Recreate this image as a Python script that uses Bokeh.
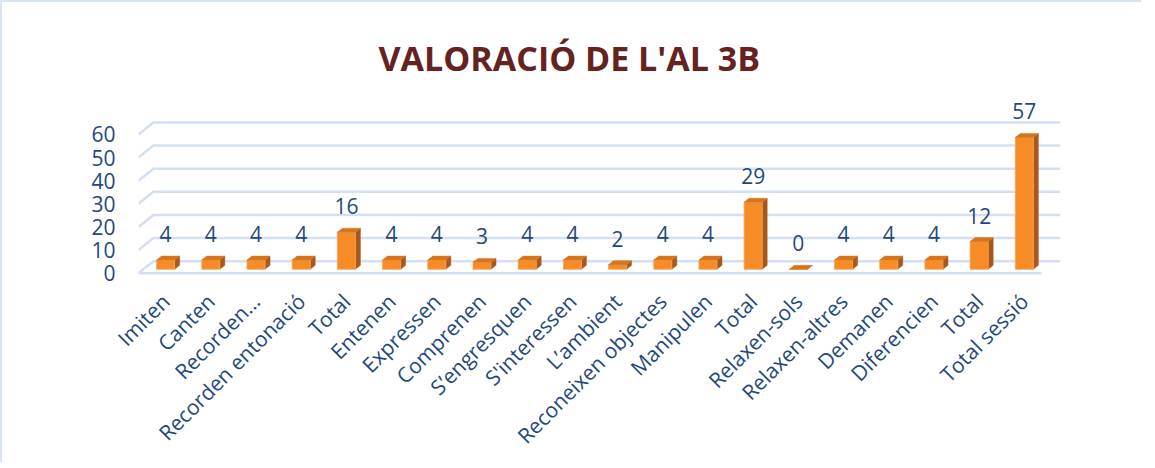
from bokeh.plotting import figure
from bokeh.models import ColumnDataSource, LabelSet, FixedTicker, Range1d
from bokeh.core.properties import value
from bokeh.embed import file_html
from bokeh.resources import INLINE
import math

# ---- data ----
categories = ["Imiten", "Canten", "Recorden…", "Recorden entonació", "Total",
              "Entenen", "Expressen", "Comprenen", "S’engresquen", "S'interessen",
              "L’ambient", "Reconeixen objectes", "Manipulen", "Total",
              "Relaxen-sols", "Relaxen-altres", "Demanen", "Diferencien", "Total",
              "Total sessió"]
values = [4, 4, 4, 4, 16, 4, 4, 3, 4, 4, 2, 4, 4, 29, 0, 4, 4, 4, 12, 57]
y_ticks = [0, 10, 20, 30, 40, 50, 60]
title_text = "VALORACIÓ DE L'AL 3B"

# ---- style ----
FONT = "Open Sans"
BLUE = "#1F497D"
GRID = "#D4DFF2"
FRONT = "#F78C26"
SIDE = "#A9581B"
TOP = "#D5761F"

half = 0.2        # half bar width (category units)
ddx = 0.11        # 3D depth offset in x (category units)
ddy = 1.7         # 3D depth offset in y (value units)
base = 1.7        # bars stand on the floor's middle plane
gdx = 0.33        # grid diagonal x
gdy = 5.2         # grid diagonal y

n = len(categories)
xs = list(range(n))

p = figure(output_backend="svg", toolbar_location=None,
           width=1139, height=452,
           frame_width=922, frame_height=185,
           min_border_left=136, min_border_right=81,
           min_border_top=88, min_border_bottom=179,
           x_range=Range1d(-0.6, 19.8), y_range=Range1d(-1, 79))
p.outline_line_color = None
p.background_fill_color = "white"
p.border_fill_color = "white"
p.styles = {"border-left": "2px solid #DAE3F3", "border-top": "2px solid #DAE3F3"}

# title
p.title.text = title_text
p.title.text_font = FONT
p.title.text_font_style = "bold"
p.title.text_font_size = "34px"
p.title.text_color = "#65221F"
p.title.align = "left"
p.title.offset = 240
p.title.standoff = 20

# grid (3D style: front end, diagonal, back line)
g_xs, g_ys = [], []
for t in y_ticks:
    g_xs.append([-0.6, -0.6 + gdx, 19.8])
    g_ys.append([t, t + gdy, t + gdy])
g_xs.append([-0.6, 19.38])
g_ys.append([0, 0])
p.multi_line(g_xs, g_ys, line_color=GRID, line_width=2.5)
p.xgrid.grid_line_color = None
p.ygrid.grid_line_color = None

# bars: front, side, top faces computed from values
left = [x - half for x in xs]
right = [x + half for x in xs]
bottoms = [base] * n
tops = [v + base for v in values]

side_xs, side_ys, top_xs, top_ys = [], [], [], []
for x, v in zip(xs, values):
    r = x + half
    l = x - half
    side_xs.append([r, r + ddx, r + ddx, r])
    side_ys.append([base, base + ddy, base + v + ddy, base + v])
    top_xs.append([l, l + ddx, r + ddx, r])
    top_ys.append([base + v, base + v + ddy, base + v + ddy, base + v])

p.patches(side_xs, side_ys, fill_color=SIDE, line_color=SIDE, line_width=0.5)
p.quad(left=left, right=right, bottom=bottoms, top=tops,
       fill_color=FRONT, line_color="#F4A460", line_width=0.8)
p.patches(top_xs, top_ys, fill_color=TOP, line_color=TOP, line_width=0.5)

# data labels
src = ColumnDataSource(dict(x=xs, y=tops, t=[str(v) for v in values]))
labels = LabelSet(x="x", y="y", text="t", source=src, y_offset=18,
                  text_align="center", text_baseline="alphabetic",
                  text_font=value(FONT), text_font_size=value("21px"),
                  text_color=BLUE)
p.add_layout(labels)

# axes
p.yaxis.ticker = FixedTicker(ticks=y_ticks)
p.yaxis.axis_line_color = None
p.yaxis.major_tick_line_color = None
p.yaxis.minor_tick_line_color = None
p.yaxis.major_label_standoff = 17
p.yaxis.major_label_text_font = FONT
p.yaxis.major_label_text_font_size = "21px"
p.yaxis.major_label_text_color = BLUE

p.xaxis.ticker = FixedTicker(ticks=xs)
p.xaxis.major_label_overrides = {i: c for i, c in enumerate(categories)}
p.xaxis.major_label_orientation = math.pi / 4
p.xaxis.axis_line_color = None
p.xaxis.major_tick_line_color = None
p.xaxis.minor_tick_line_color = None
p.xaxis.major_label_standoff = 16
p.xaxis.major_label_text_font = FONT
p.xaxis.major_label_text_font_size = "21px"
p.xaxis.major_label_text_color = BLUE

open("out.html", "w").write(file_html(p, INLINE))
